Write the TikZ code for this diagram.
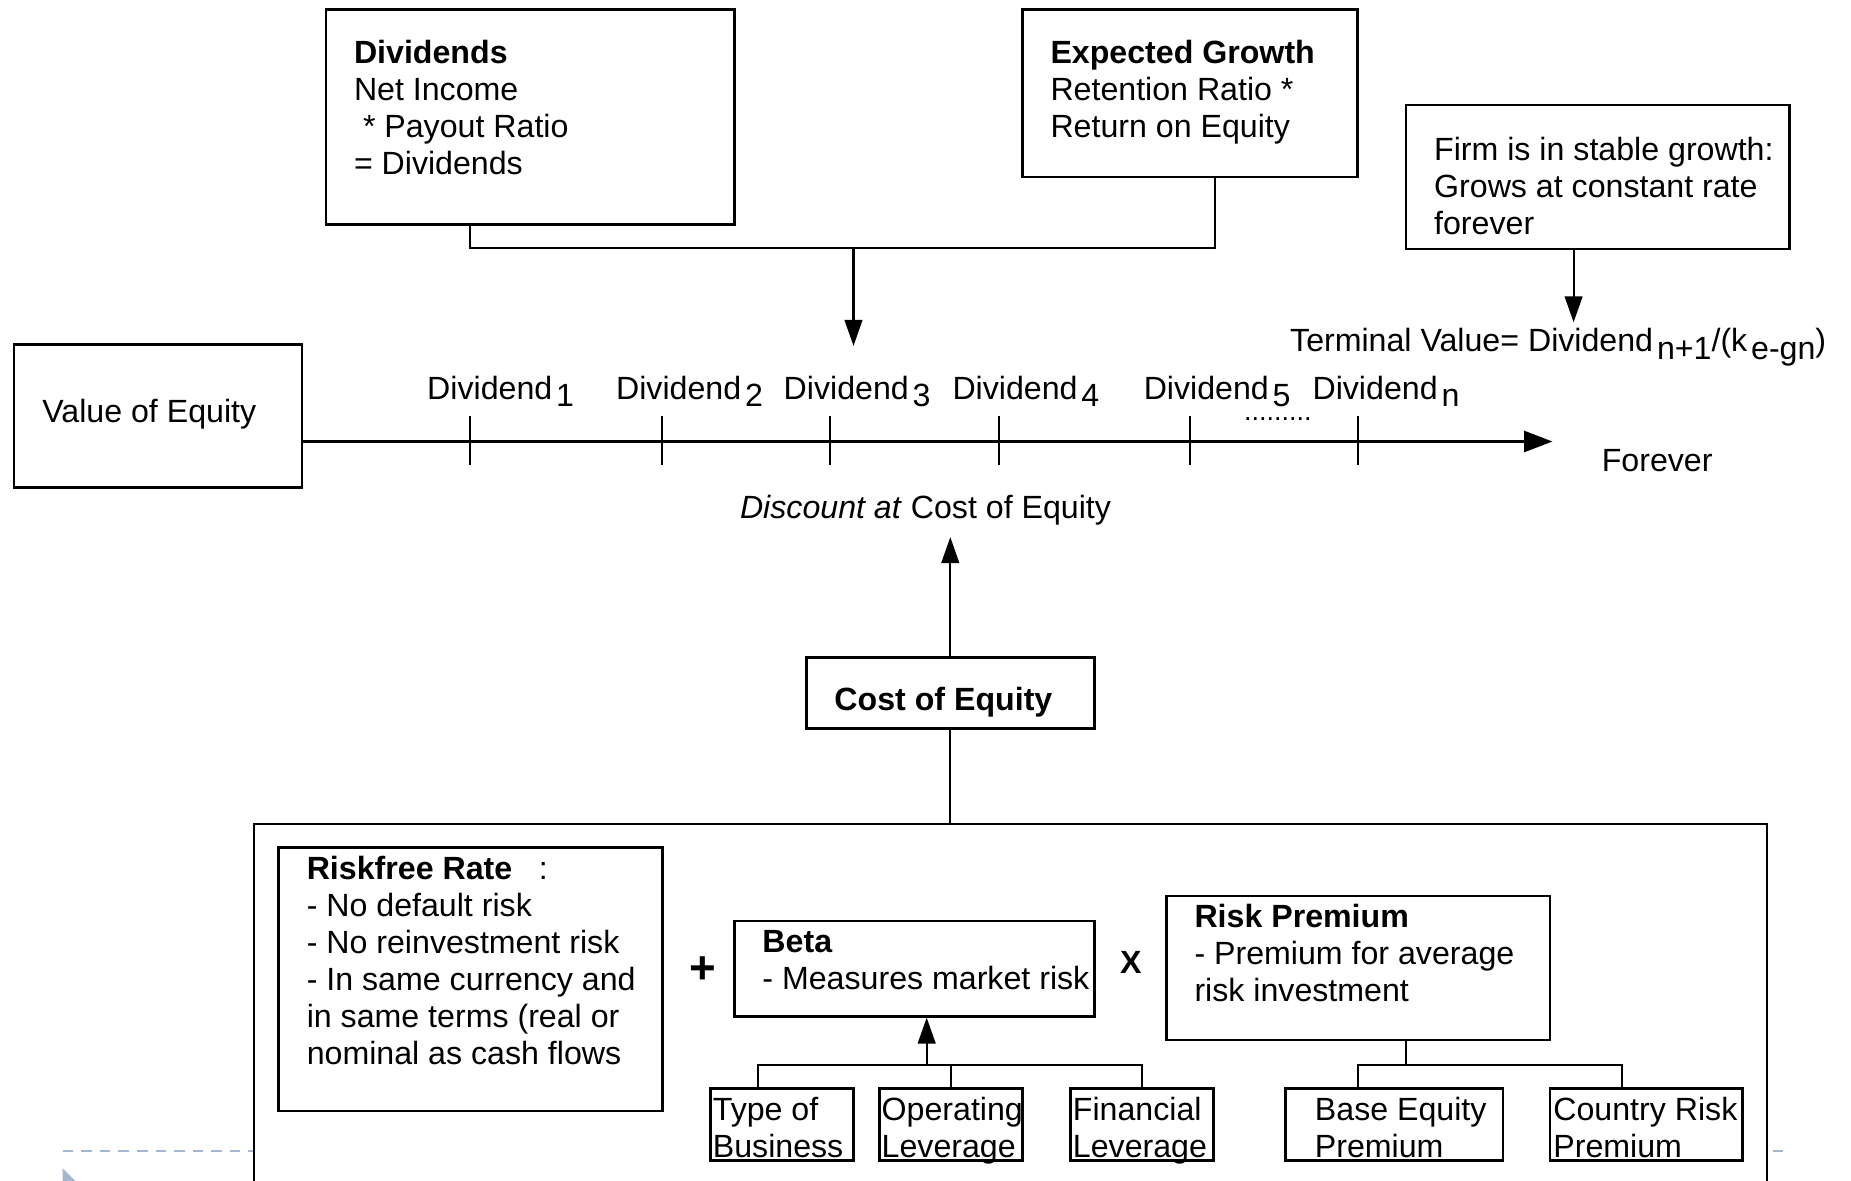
\documentclass[tikz,border=0pt]{standalone}
\usepackage{fontspec}
\setmainfont{Liberation Sans}
\usetikzlibrary{arrows.meta,fit}

\definecolor{footerblue}{RGB}{163,184,206}
\newcommand{\diagfont}{\fontsize{15.5}{17.9}\selectfont}
\newcommand{\sbs}[1]{\hspace{0.12em}\raisebox{-3.6pt}{#1}}

\tikzset{
  arr/.style={-{Triangle[length=0.44cm,width=0.3cm]}},
  tlarr/.style={-{Triangle[length=0.48cm,width=0.36cm]}}
}

\begin{document}
\begin{tikzpicture}[x=0.02cm,y=-0.02cm,line width=1pt,font=\diagfont]

  \useasboundingbox (0,0) rectangle (1568,1000);

  % footer of the slide
  \draw[footerblue,line width=1.3pt,dash pattern=on 0.18cm off 0.135cm]
    (53,975) -- (1516,975);
  \fill[footerblue] (53,989.5) -- (68,1004.5) -- (53,1019.5) -- cycle;

  \begin{scope}[every node/.style={draw,line width=1.2pt,inner sep=0pt,fill=white}]
    \node[fit={(215,698) (1497,1020)}] (bigbox) {};
    \node[fit={(276,8) (622,190)}] (divbox) {};
    \node[fit={(866,8) (1150,150)}] (growbox) {};
    \node[fit={(1191,89) (1516,211)}] (firmbox) {};
    \node[fit={(12,292) (256,413)}] (valbox) {};
    \node[fit={(683,557) (927,617)}] (costbox) {};
    \node[fit={(236,718) (561,941)}] (rfbox) {};
    \node[fit={(622,780) (927,861)}] (betabox) {};
    \node[fit={(988,759) (1313,881)}] (rpbox) {};
    \node[fit={(602,922) (723,983)}] (typebox) {};
    \node[fit={(745,922) (866,983)}] (opbox) {};
    \node[fit={(907,922) (1028,983)}] (finbox) {};
    \node[fit={(1089,922) (1273,983)}] (basebox) {};
    \node[fit={(1313,922) (1476,983)}] (ctrybox) {};
  \end{scope}

  \begin{scope}[every node/.style={inner sep=0pt,align=left,anchor=north west}]
    \node (divtxt) at (299,31) {\strut\textbf{Dividends}\\Net Income\\\hspace*{0.28em}* Payout Ratio\\= Dividends};
    \node (growtxt) at (889,31) {\strut\textbf{Expected Growth}\\Retention Ratio *\\Return on Equity};
    \node (firmtxt) at (1214,113) {\strut Firm is in stable growth:\\Grows at constant rate\\forever};
    \node (rftxt) at (259,722) {\strut\textbf{Riskfree Rate}\hspace{0.55em} :\\- No default risk\\- No reinvestment risk\\- In same currency and\\in same terms (real or\\nominal as cash flows};
    \node (betatxt) at (645,784) {\strut\textbf{Beta}\\- Measures market risk};
    \node (rptxt) at (1011,763) {\strut\textbf{Risk Premium}\\- Premium for average\\risk investment};
    \node (typetxt) at (603,926) {\strut Type of\\Business};
    \node (optxt) at (746,926) {\strut Operating\\Leverage};
    \node (fintxt) at (908,926) {\strut Financial\\Leverage};
    \node (basetxt) at (1113,926) {\strut Base Equity\\Premium};
    \node (ctrytxt) at (1315,926) {\strut Country Risk\\Premium};
  \end{scope}

  \begin{scope}[every node/.style={inner sep=0pt,anchor=base west}]
    \node (valtxt) at (35,358) {Value of Equity};
    \node (costtxt) at (706,602) {\textbf{Cost of Equity}};
    \node (disctxt) at (626,439) {\textit{Discount at} Cost of Equity};
    \node (forever) at (1356,399) {Forever};
    \node (termtxt) at (1092,298) {Terminal Value= Dividend\sbs{n+1}/(k\sbs{e-gn})};
    \node (dots) at (1053,356) {\fontsize{13}{13}\selectfont .........};
    \node[anchor=center,font=\fontsize{22}{22}\selectfont\bfseries] (plus) at (595,822) {+};
    \node[anchor=center,font=\diagfont\bfseries] (times) at (958,815) {X};
  \end{scope}

  \coordinate (divdrop) at (398,210);
  \coordinate (growdrop) at (1029,210);
  \coordinate (join) at (723,210);
  \coordinate (divtip) at (723,293);
  \coordinate (termtip) at (1333,273);
  \coordinate (tlend) at (1315,374);
  \coordinate (disctip) at (805,455);
  \coordinate (betajoin) at (785,902);
  \coordinate (typejoin) at (642,902);
  \coordinate (rpjoin) at (1191,902);
  \coordinate (basejoin) at (1150,902);
  \coordinate (ctryjoin) at (1374,902);

  \draw (divbox.south -| divdrop) -- (divdrop) -- (growdrop) -- (growbox.south -| growdrop);
  \draw[arr] (join) -- (divtip);
  \draw[arr] (firmbox.south -| termtip) -- (termtip);

  % time line
  \draw[tlarr] (valbox.east |- tlend) -- (tlend);
  \foreach \x/\lx/\n in {398/361/1,561/521/2,703/663/3,846/806/4,1008/968/5,1150/1111/n}{
    \draw (\x,352) -- (\x,394);
    \node[inner sep=0pt,anchor=base west] (div\n) at (\lx,338) {Dividend\sbs{\n}};
  }

  \draw[arr] (costbox.north) -- (disctip);
  \draw (costbox.south) -- (costbox.south |- bigbox.north);

  \draw[arr] (betajoin) -- (betabox.south -| betajoin);
  \draw (typebox.north -| typejoin) -- (typejoin) -| (finbox.north);
  \draw (opbox.north) -- (opbox.north |- typejoin);
  \draw (rpbox.south -| rpjoin) -- (rpjoin);
  \draw (basebox.north -| basejoin) -- (basejoin) -- (ctryjoin) -- (ctrybox.north -| ctryjoin);

\end{tikzpicture}
\end{document}
